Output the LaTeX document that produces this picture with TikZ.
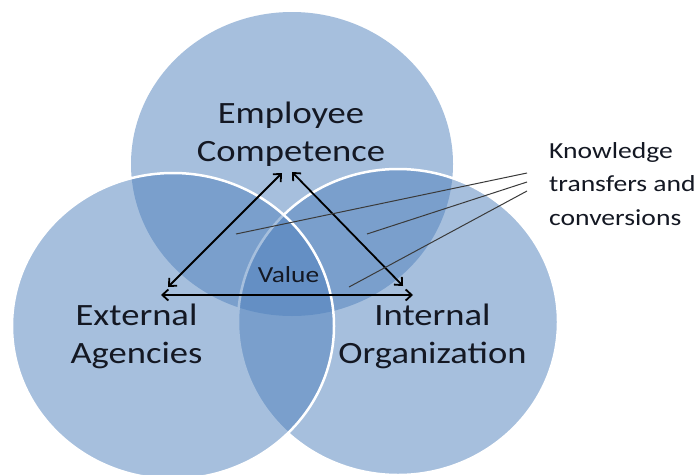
\documentclass[tikz,border=0pt]{standalone}
\usepackage{fontspec}
\setmainfont{Carlito}
\usetikzlibrary{arrows.meta}

\definecolor{ringblue}{HTML}{4F81BD}
\definecolor{labelink}{HTML}{141823}
\definecolor{leadergray}{HTML}{3A3A3A}

% horizontally widened text block
\newcommand{\widetext}[2]{\scalebox{#1}[1]{#2}}

\begin{document}
\begin{tikzpicture}[x=1pt,y=-1pt,
  ring/.style={fill=ringblue, fill opacity=0.5},
  ringedge/.style={ring, draw=white, line width=2.5pt},
  biglabel/.style={inner sep=0pt, anchor=base, text=labelink,
                   font=\fontsize{31}{38}\selectfont},
  smalllabel/.style={inner sep=0pt, anchor=base, text=labelink,
                   font=\fontsize{23}{28}\selectfont},
  notelabel/.style={inner sep=0pt, anchor=base west, text=labelink,
                   font=\fontsize{23}{33.5}\selectfont},
  link/.style={draw=black, line width=1.8pt,
               {Straight Barb[length=6pt,width=11pt]}-{Straight Barb[length=6pt,width=11pt]}},
  leader/.style={draw=leadergray, line width=1pt},
]
\useasboundingbox (0,0) rectangle (700,474);
\fill[white] (0,0) rectangle (700,474);

% the three overlapping discs
\path[ring]     (292,164) ellipse [x radius=161pt, y radius=152pt];
\path[ringedge] (398,322) ellipse [x radius=160pt, y radius=153pt];
\path[ringedge] (173,326) ellipse [x radius=161pt, y radius=153pt];

% labels
\node[biglabel] (emp) at (291,123)
  {\widetext{1.18}{\begin{tabular}[t]{@{}c@{}}Employee\\Competence\end{tabular}}};
\node[biglabel] (ext) at (136.5,325)
  {\widetext{1.18}{\begin{tabular}[t]{@{}c@{}}External\\Agencies\end{tabular}}};
\node[biglabel] (int) at (432.5,325)
  {\widetext{1.18}{\begin{tabular}[t]{@{}c@{}}Internal\\Organization\end{tabular}}};
\node[smalllabel] (val) at (288.5,282) {\widetext{1.19}{Value}};
\node[notelabel] (kt) at (549,158)
  {\widetext{1.2}{\begin{tabular}[t]{@{}l@{}}Knowledge\\transfers and\\conversions\end{tabular}}};

% arrow end points
\coordinate (aL)  at (168,287);
\coordinate (aT1) at (282,173);
\coordinate (aT2) at (292,172);
\coordinate (aR)  at (403,286);
\coordinate (hL)  at (161,295);
\coordinate (hR)  at (413,295);

\draw[link] (aL) -- (aT1);
\draw[link] (aT2) -- (aR);
\draw[link] (hL) -- (hR);

% leader lines from the note
\coordinate (k1) at (527,173);
\coordinate (k2) at (527,182);
\coordinate (k3) at (527,191);
\coordinate (t1) at (236,234);
\coordinate (t2) at (367,234);
\coordinate (t3) at (349,287);

\draw[leader] (k1) -- (t1);
\draw[leader] (k2) -- (t2);
\draw[leader] (k3) -- (t3);
\end{tikzpicture}
\end{document}
